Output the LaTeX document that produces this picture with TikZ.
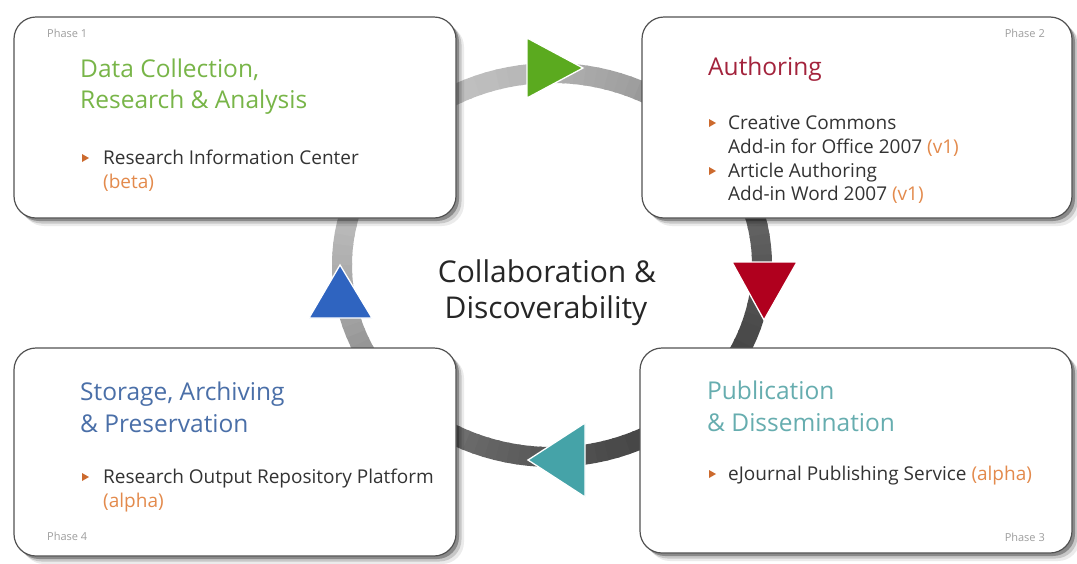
\documentclass[tikz,border=0pt]{standalone}
\usepackage{fontspec}
\setmainfont{Open Sans}
\usetikzlibrary{shadows}
\definecolor{tgreen}{HTML}{78B548}
\definecolor{tred}{HTML}{A3233C}
\definecolor{tblue}{HTML}{4A6FA8}
\definecolor{tteal}{HTML}{66ADAF}
\definecolor{btext}{HTML}{333333}
\definecolor{vorange}{HTML}{E38A4C}
\definecolor{bmark}{HTML}{CC6A2E}
\definecolor{agreen}{HTML}{5BAA1F}
\definecolor{ared}{HTML}{B0001E}
\definecolor{ablue}{HTML}{2F64C0}
\definecolor{ateal}{HTML}{45A3A8}
\begin{document}
\begin{tikzpicture}[x=1pt,y=-1pt,
  box/.style={draw=black!68, line width=1.2pt, fill=white, rounded corners=22pt, inner sep=0pt,
    drop shadow={shadow xshift=8pt, shadow yshift=-8pt, fill=black, opacity=0.08},
    drop shadow={shadow xshift=5.5pt, shadow yshift=-5.5pt, fill=black, opacity=0.15},
    drop shadow={shadow xshift=3pt, shadow yshift=-3pt, fill=black, opacity=0.3}},
  txt/.style={anchor=base west, inner sep=0pt},
  phase/.style={inner sep=0pt, text=black!38, font=\fontsize{11}{13}\selectfont},
  ttl/.style={txt, font=\fontsize{24.5}{28}\selectfont},
  itm/.style={txt, text=btext, font=\fontsize{19}{22}\selectfont},
  ver/.style={text=vorange},
  bmk/.style={fill=bmark},
  arrowhead/.style={draw=white, line width=1.3pt, line join=miter}
]
\useasboundingbox[fill=white] (0,0) rectangle (1077,563);

% ring (cycle connector)
\coordinate (c) at (552,265);
\foreach \a in {0,3,...,357} {
  \pgfmathsetmacro\t{(1+cos(\a-225))/2}
  \pgfmathsetmacro\k{int(24+50*(1-\t))}
  \draw[line width=20pt, draw=black!\k] (c) ++(\a:210 and 192)
     arc[start angle=\a, end angle=\a+3.6, x radius=210, y radius=192];
}

% boxes
\node[box, minimum width=442pt, minimum height=201pt] (p1) at (235,117.5) {};
\node[box, minimum width=430pt, minimum height=201pt] (p2) at (857,117.5) {};
\node[box, minimum width=432pt, minimum height=205pt] (p3) at (856,450.5) {};
\node[box, minimum width=442pt, minimum height=208pt] (p4) at (235,452) {};

% arrowheads on the ring
\draw[arrowhead, fill=agreen] (527,38) -- (527,98) -- (583,68) -- cycle;
\draw[arrowhead, fill=ared] (732,262) -- (797,262) -- (764,320) -- cycle;
\draw[arrowhead, fill=ateal] (585,423) -- (585,497) -- (528,460) -- cycle;
\draw[arrowhead, fill=ablue] (340,265) -- (372,318) -- (309,318) -- cycle;

% centre
\node[anchor=base, inner sep=0pt, text=black!85, font=\fontsize{30}{34}\selectfont] (c1) at (547,282) {Collaboration \&};
\node[anchor=base, inner sep=0pt, text=black!85, font=\fontsize{30}{34}\selectfont] (c2) at (546,318) {Discoverability};

% Phase 1
\node[phase, anchor=base west] (ph1) at (47,37) {Phase 1};
\node[ttl, text=tgreen] (t1a) at (80,77) {Data Collection,};
\node[ttl, text=tgreen] (t1b) at (80,108) {Research \& Analysis};
\fill[bmk] (82,154) -- (89,158) -- (82,162) -- cycle;
\node[itm] (i1a) at (103,164) {Research Information Center};
\node[itm, ver] (i1b) at (103,188) {(beta)};

% Phase 2
\node[phase, anchor=base east] (ph2) at (1045,37) {Phase 2};
\node[ttl, text=tred] (t2) at (708,75) {Authoring};
\fill[bmk] (709,119) -- (716,123) -- (709,127) -- cycle;
\node[itm] (i2a) at (728,129) {Creative Commons};
\node[itm] (i2b) at (728,153) {Add-in for Office 2007 \textcolor{vorange}{(v1)}};
\fill[bmk] (709,167) -- (716,171) -- (709,175) -- cycle;
\node[itm] (i2c) at (728,177) {Article Authoring};
\node[itm] (i2d) at (728,200) {Add-in Word 2007 \textcolor{vorange}{(v1)}};

% Phase 3
\node[ttl, text=tteal] (t3a) at (707,399) {Publication};
\node[ttl, text=tteal] (t3b) at (707,431) {\& Dissemination};
\fill[bmk] (709,470) -- (716,474) -- (709,478) -- cycle;
\node[itm] (i3) at (728,480) {eJournal Publishing Service \textcolor{vorange}{(alpha)}};
\node[phase, anchor=base east] (ph3) at (1045,541) {Phase 3};

% Phase 4
\node[ttl, text=tblue] (t4a) at (80,400) {Storage, Archiving};
\node[ttl, text=tblue] (t4b) at (80,432) {\& Preservation};
\fill[bmk] (82,473) -- (89,477) -- (82,481) -- cycle;
\node[itm] (i4a) at (103,483) {Research Output Repository Platform};
\node[itm, ver] (i4b) at (103,507) {(alpha)};
\node[phase, anchor=base west] (ph4) at (47,540) {Phase 4};
\end{tikzpicture}
\end{document}
